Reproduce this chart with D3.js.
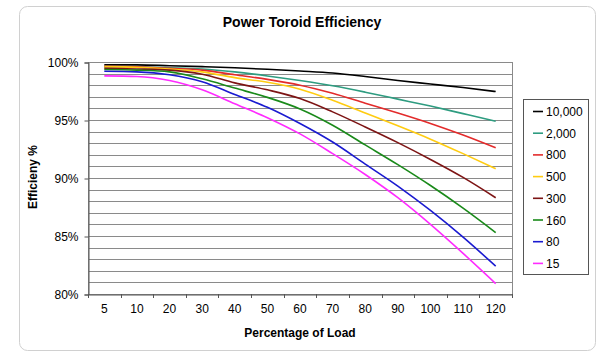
<!DOCTYPE html>
<html><head><meta charset="utf-8">
<script src="https://cdn.jsdelivr.net/npm/d3@7"></script>
<style>body{margin:0;background:#fff;}svg{display:block;font-family:Arial,"Liberation Sans",sans-serif;}</style>
</head><body>
<svg id="c" width="602" height="359"></svg>
<script>
const categories = ["5","10","20","30","40","50","60","70","80","90","100","110","120"];
const seriesNames = ["10,000","2,000","800","500","300","160","80","15"];
const seriesColors = ["#000000","#2e9c80","#e32b2b","#ffcc11","#7d1414","#1a8a1a","#1a1ad0","#ff2bff"];
const s10000 = [99.75,99.75,99.68,99.6,99.5,99.37,99.22,99.05,98.75,98.4,98.1,97.8,97.45];
const s2000  = [99.6,99.58,99.5,99.4,99.15,98.8,98.4,97.95,97.4,96.8,96.2,95.55,94.9];
const s800   = [99.62,99.58,99.45,99.3,98.9,98.5,98.0,97.3,96.45,95.6,94.7,93.7,92.6];
const s500   = [99.6,99.55,99.4,99.15,98.65,98.25,97.65,96.7,95.6,94.5,93.35,92.1,90.8];
const s300   = [99.45,99.4,99.3,98.95,98.2,97.6,96.85,95.7,94.4,93.05,91.6,90.05,88.3];
const s160   = [99.35,99.3,99.15,98.55,97.75,96.95,95.95,94.55,92.85,91.15,89.35,87.4,85.3];
const s80    = [99.2,99.15,98.9,98.3,97.2,96.1,94.7,93.1,91.2,89.3,87.2,84.9,82.4];
const s15    = [98.8,98.75,98.4,97.6,96.4,95.2,93.8,92.1,90.3,88.3,86.0,83.5,80.9];
const yTicks = [80,85,90,95,100];
const seriesValues = [s10000,s2000,s800,s500,s300,s160,s80,s15];

const svg = d3.select("#c");
// outer frame
svg.append("rect").attr("x",19.5).attr("y",6.5).attr("width",576).attr("height",344)
  .attr("rx",8).attr("fill","#fff").attr("stroke","#d0d0d0");

const L=88, R=512, T=62, B=294;
const x = d3.scaleBand().domain(categories).range([L,R]).padding(0);
const y = d3.scaleLinear().domain([80,100]).range([B,T]);

// gridlines every 1%
const grid = d3.range(81,101);
svg.append("g").selectAll("line").data(grid).join("line")
  .attr("x1",L).attr("x2",R).attr("y1",d=>Math.round(y(d))+0.5).attr("y2",d=>Math.round(y(d))+0.5)
  .attr("stroke","#8a8a8a").attr("stroke-width",1.2);
// plot border
svg.append("rect").attr("x",L+0.5).attr("y",T+0.5).attr("width",R-L).attr("height",B-T)
  .attr("fill","none").attr("stroke","#8a8a8a");

// y axis
const yAxis = d3.axisLeft(y).tickValues(yTicks).tickFormat(d=>d+"%").tickSize(4).tickPadding(6);
const gy = svg.append("g").attr("transform",`translate(${L+0.5},0.5)`).call(yAxis);
gy.select(".domain").attr("stroke","#555");
gy.selectAll(".tick line").attr("stroke","#555");
gy.selectAll("text").attr("font-size",12).attr("fill","#000").attr("font-family","Arial,'Liberation Sans',sans-serif");

// x axis
const xAxis = d3.axisBottom(x).tickSize(0).tickPadding(10);
const gx = svg.append("g").attr("transform",`translate(0,${B+0.5})`).call(xAxis);
gx.select(".domain").attr("stroke","#555");
gx.selectAll("text").attr("font-size",12).attr("fill","#000").attr("font-family","Arial,'Liberation Sans',sans-serif");
// x tick marks at category boundaries
const bounds = categories.map(c=>x(c)).concat([R]);
svg.append("g").selectAll("line").data(bounds).join("line")
  .attr("x1",d=>Math.round(d)+0.5).attr("x2",d=>Math.round(d)+0.5)
  .attr("y1",B).attr("y2",B+4).attr("stroke","#555");

// lines
const line = d3.line()
  .x((d,i)=>x(categories[i])+x.bandwidth()/2)
  .y(d=>y(d))
  .curve(d3.curveMonotoneX);
svg.append("g").selectAll("path").data(seriesValues).join("path")
  .attr("d",line).attr("fill","none")
  .attr("stroke",(d,i)=>seriesColors[i]).attr("stroke-width",1.6);

// titles
svg.append("text").attr("x",302).attr("y",27).attr("text-anchor","middle")
  .attr("font-size",14).attr("font-weight","bold").text("Power Toroid Efficiency");
svg.append("text").attr("x",300).attr("y",337).attr("text-anchor","middle")
  .attr("font-size",12).attr("font-weight","bold").text("Percentage of Load");
svg.append("text").attr("transform","translate(37,177) rotate(-90)").attr("text-anchor","middle")
  .attr("font-size",12).attr("font-weight","bold").text("Efficieny %");

// legend
const lg = svg.append("g");
lg.append("rect").attr("x",523.5).attr("y",99.5).attr("width",65).attr("height",175)
  .attr("fill","#fff").attr("stroke","#555");
const items = lg.selectAll("g").data(seriesNames).join("g")
  .attr("transform",(d,i)=>`translate(0,${111.5+i*21.7})`);
items.append("line").attr("x1",533).attr("x2",543).attr("y1",0).attr("y2",0)
  .attr("stroke",(d,i)=>seriesColors[i]).attr("stroke-width",1.6);
items.append("text").attr("x",546).attr("y",4.5).attr("font-size",12).text(d=>d);
</script>
</body></html>
